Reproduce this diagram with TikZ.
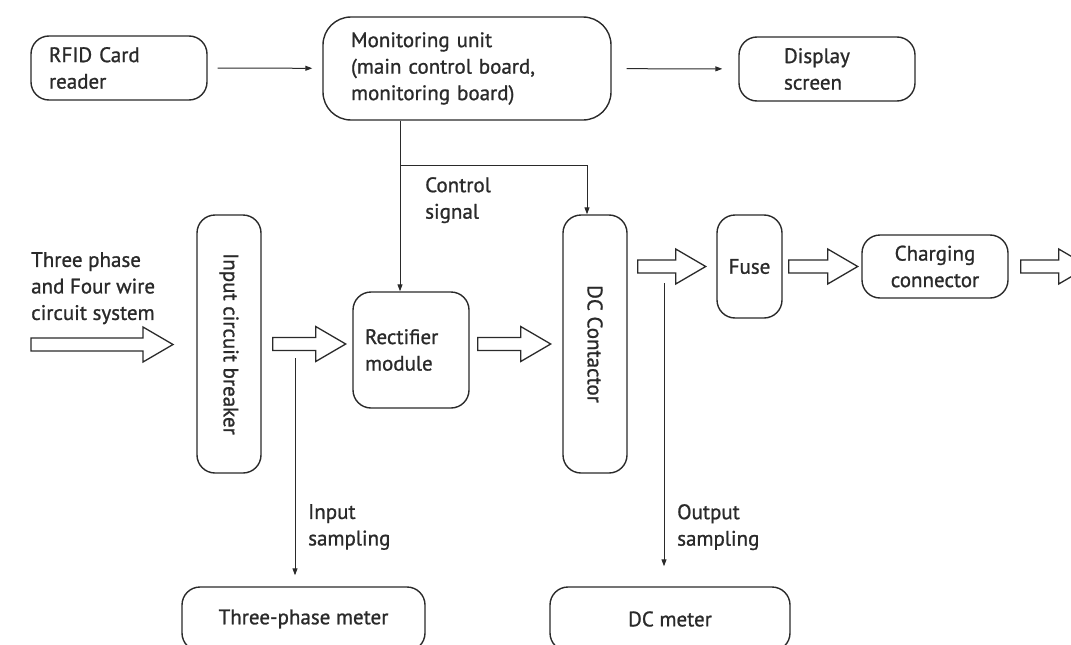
\documentclass[tikz,border=0pt]{standalone}
\usepackage{fontspec}
\setmainfont{PT Sans}[BoldFont=PT Sans,BoldFeatures={FakeBold=1}]
\usepackage{graphicx}
\usetikzlibrary{arrows.meta}
\definecolor{ink}{HTML}{2A2A2A}

\newcommand{\fatarrow}[2]{\draw[fat] #1 ++(0,-6.5) -- ++(#2,0) -- ++(0,-11) -- ++(30,17.5) -- ++(-30,17.5) -- ++(0,-11) -- ++(-#2,0) -- cycle;}

\begin{document}
\begin{tikzpicture}[x=1pt,y=-1pt,font=\fontsize{21}{26.5}\selectfont\bfseries,text=ink,
  box/.style={draw=ink,line width=1.4pt,rounded corners=18pt,inner sep=0pt},
  fat/.style={draw=ink,line width=1.3pt},
  thin/.style={draw=ink,line width=1pt,-{Triangle[length=7pt,width=5pt]}}]
\useasboundingbox (0,0) rectangle (1071,645);
\node[box,minimum width=176,minimum height=64,text width=140,align=left] (rfid) at (119,68) {RFID Card\\reader};
\node[box,rounded corners=28pt,minimum width=288,minimum height=103,text width=232,align=left] (mon) at (467,68.5) {Monitoring unit\\(main control board,\\monitoring board)};
\node[box,minimum width=176,minimum height=64,text width=86,align=left] (disp) at (827,69) {Display\\screen};
\node[box,minimum width=64,minimum height=258] (brk) at (229,344) {\rotatebox{-90}{Input circuit breaker}};
\node[box,minimum width=116,minimum height=116,text width=92,align=left] (rect) at (411,350) {Rectifier\\module};
\node[box,minimum width=64,minimum height=258] (dc) at (595,344) {\rotatebox{-90}{DC Contactor}};
\node[box,minimum width=65,minimum height=103] (fuse) at (749.5,266.5) {Fuse};
\node[box,minimum width=146,minimum height=63,align=center] (chg) at (935,266.5) {Charging\\connector};
\node[box,minimum width=243,minimum height=64] (tpm) at (303.5,619) {Three-phase meter};
\node[box,minimum width=240,minimum height=64] (dcm) at (670,619) {DC meter};
\node[anchor=north west,align=left,inner sep=0pt] (src) at (31,252) {Three phase\\and Four wire\\circuit system};
\node[anchor=north west,align=left,inner sep=0pt] (ctltxt) at (425,177) {Control\\signal};
\node[anchor=north west,align=left,inner sep=0pt] (intxt) at (308,504) {Input\\sampling};
\node[anchor=north west,align=left,inner sep=0pt] (outtxt) at (677,504) {Output\\sampling};
\draw[thin,shorten <=10pt,shorten >=10pt] (rfid) -- (mon);
\draw[thin,shorten <=15pt,shorten >=16pt] (mon) -- (disp);
\draw[thin] ([xshift=-11pt]rect.north |- mon.south) -- ([xshift=-11pt]rect.north);
\coordinate (br) at ([xshift=-11pt]rect.north |- 0,165);
\draw[thin] (br) -| ([xshift=-8pt]dc.north);
\coordinate (insmp) at (295,358);
\coordinate (outsmp) at (664,283);
\draw[thin,shorten >=11pt] (insmp) -- (insmp |- tpm.north);
\draw[thin,shorten >=20pt] (outsmp) -- (outsmp |- dcm.north);
\fatarrow{(31,344.5)}{112}
\fatarrow{([xshift=11pt]brk.east)}{43}
\fatarrow{([xshift=8pt]rect.east |- brk.east)}{43}
\fatarrow{([xshift=10pt]dc.east |- fuse.west)}{38}
\fatarrow{([xshift=6pt]fuse.east)}{39}
\fatarrow{([xshift=12pt]chg.east)}{38}
\end{tikzpicture}
\end{document}
